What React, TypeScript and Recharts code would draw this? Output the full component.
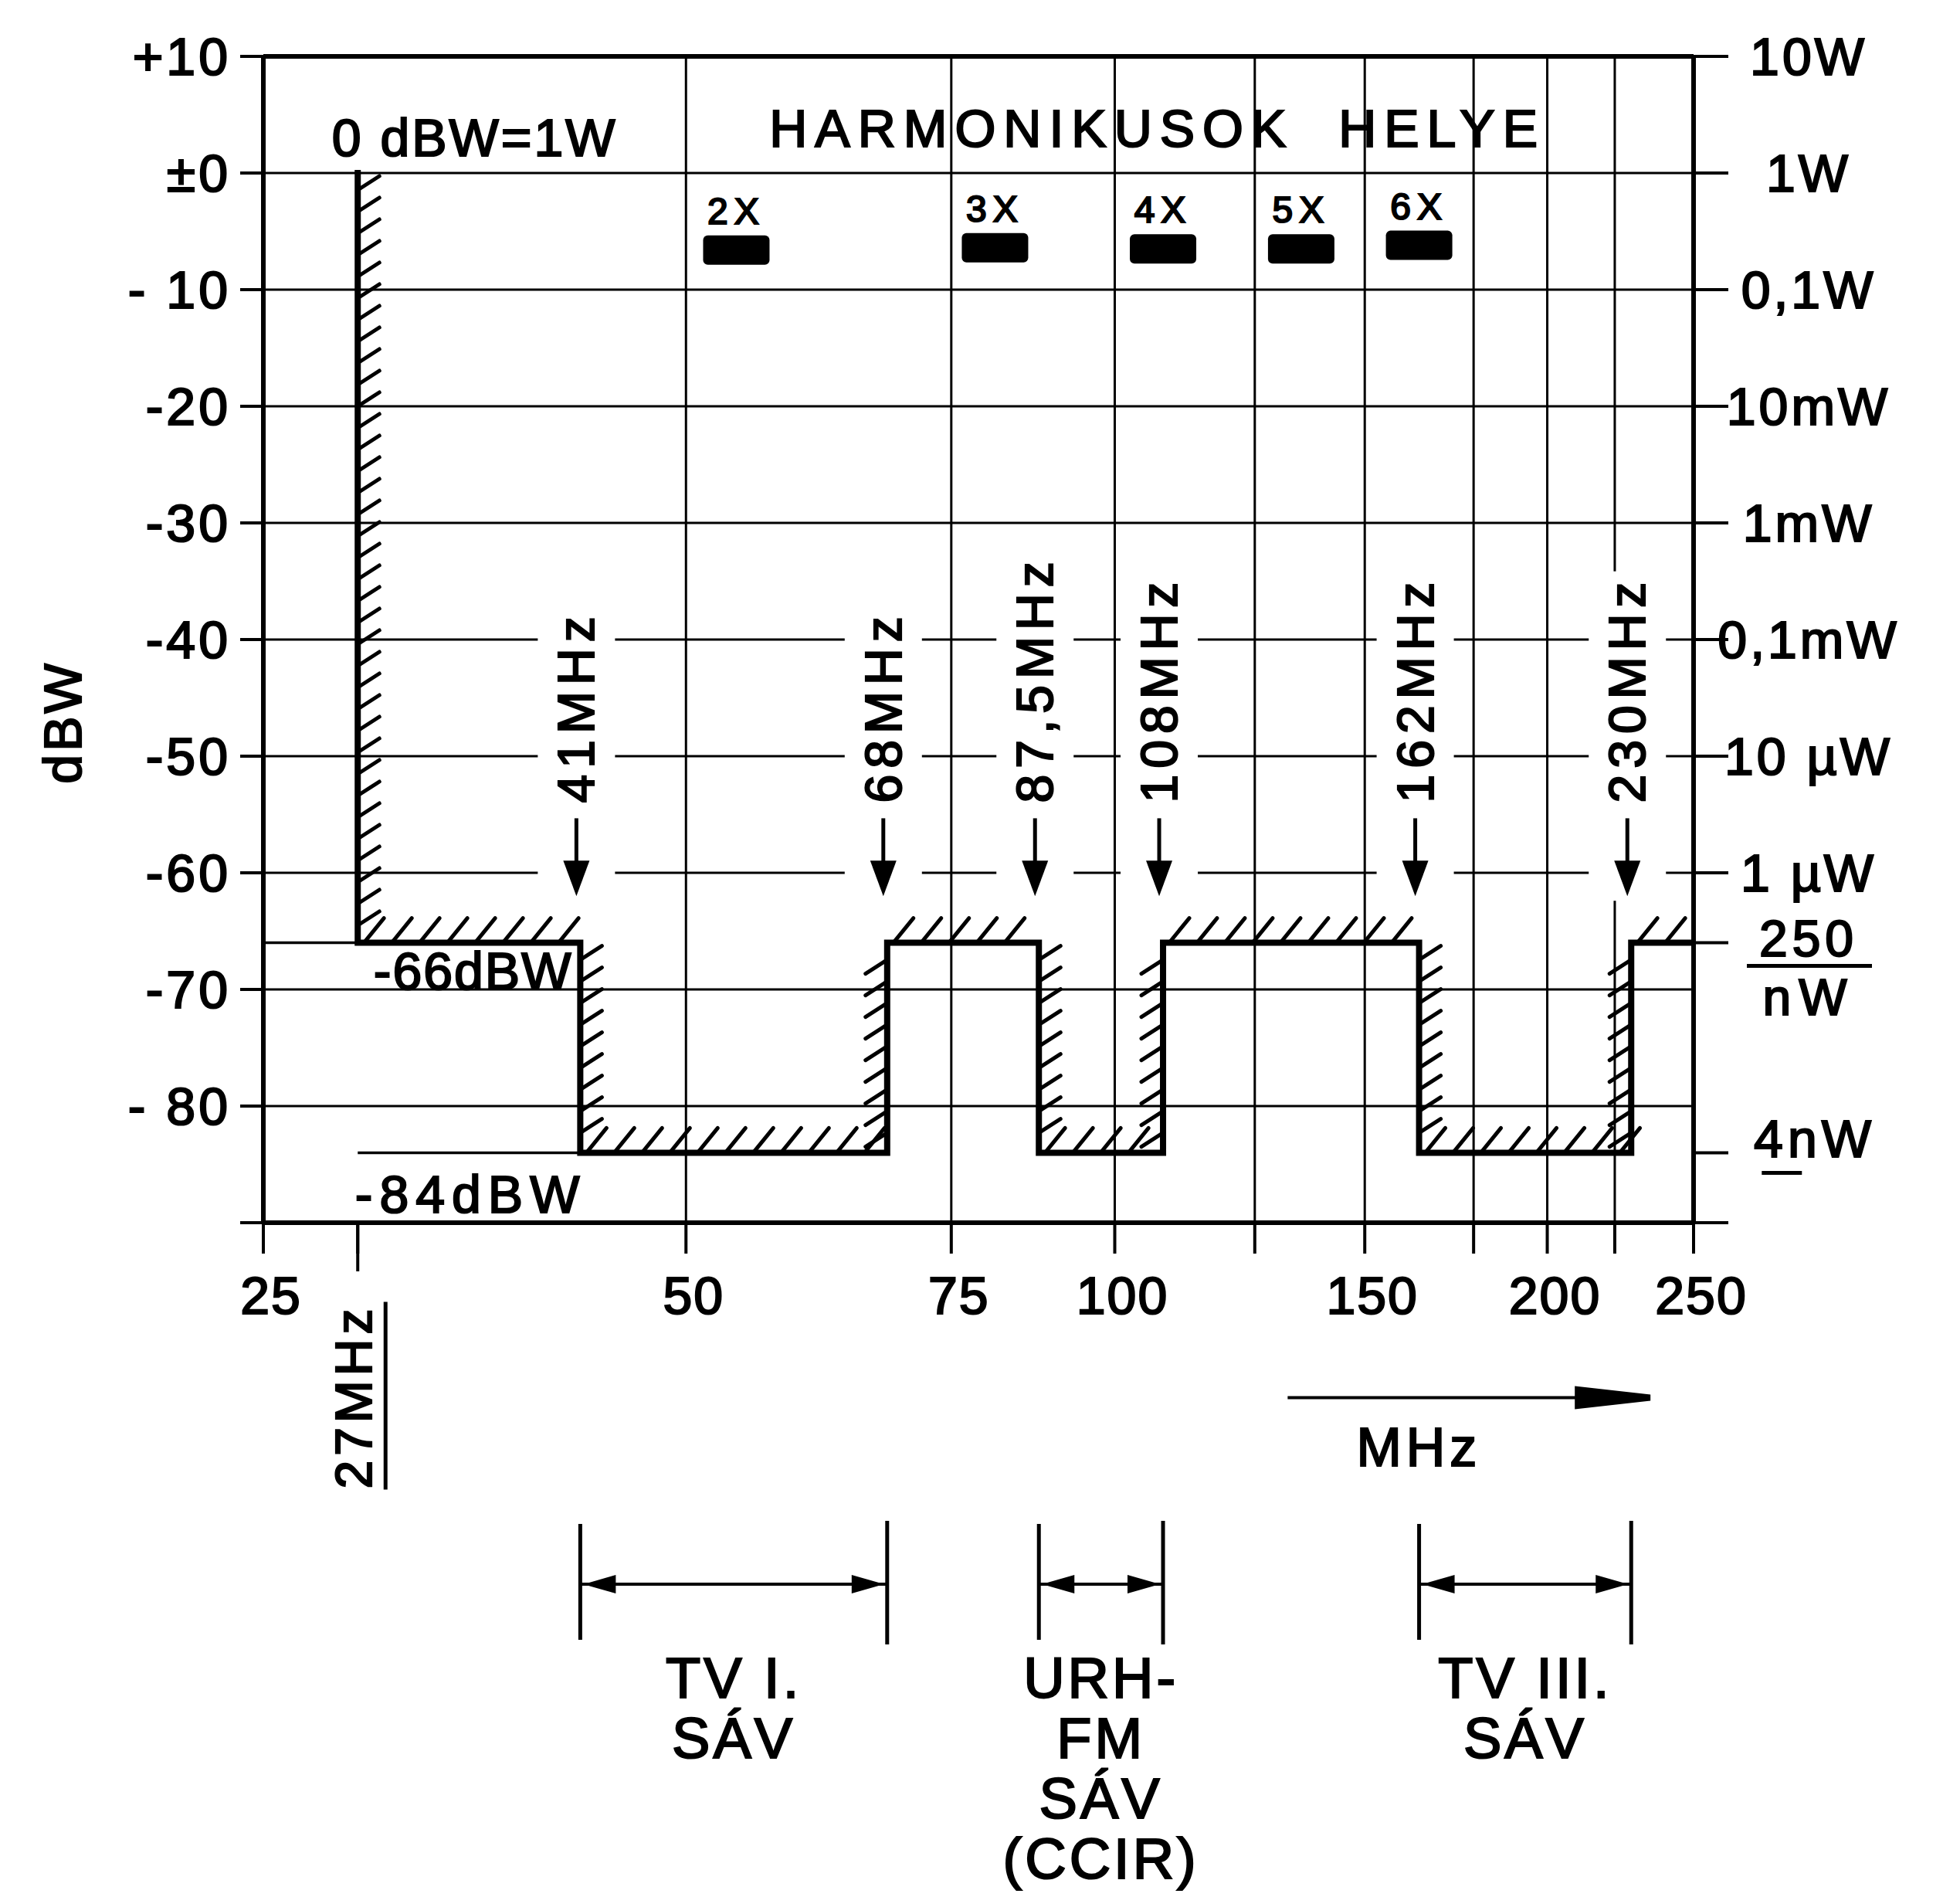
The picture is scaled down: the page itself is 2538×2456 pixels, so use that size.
import React from 'react';
import {
  ComposedChart,
  Line,
  Scatter,
  XAxis,
  YAxis,
  CartesianGrid,
  ReferenceLine,
} from 'recharts';

// ---------------- data ----------------
// spurious-emission mask: step boundaries (MHz) and the level (dBW) in each interval
const MASK_FREQS = [27, 41, 68, 87.5, 108, 162, 230, 250];
const MASK_LEVELS = [-66, -84, -66, -84, -66, -84, -66];
const CARRIER_LEVEL = 0; // 0 dBW = 1 W at 27 MHz

const STEP_FREQS = [41, 68, 87.5, 108, 162, 230];
const STEP_LABELS = ['41MHz', '68MHz', '87,5MHz', '108MHz', '162MHz', '230MHz'];

const HARMONIC_NAMES = ['2X', '3X', '4X', '5X', '6X'];
const HARMONIC_FREQS = [54, 81, 108, 135, 162];
const HARMONIC_LEVELS = [-6.6, -6.4, -6.5, -6.5, -6.2];

const BAND_FROM = [41, 87.5, 162];
const BAND_TO = [68, 108, 230];
const BAND_TEXT = [['TV I.', 'SÁV'], ['URH-', 'FM', 'SÁV', '(CCIR)'], ['TV III.', 'SÁV']];

const X_TICKS = [25, 27, 50, 75, 100, 125, 150, 175, 200, 225, 250];
const X_TICK_LABELS = ['25', '27MHz', '50', '75', '100', '', '150', '', '200', '', '250'];
// hand-drawn axis calibration: where each tick sits along the axis (0 = left, 1 = right)
const X_TICK_FRACTIONS = [0, 0.066, 0.2955, 0.481, 0.5953, 0.6932, 0.7701, 0.8462, 0.8977, 0.9449, 1];
const X_GRID = [50, 75, 100, 125, 150, 175, 200, 225];

const Y_TICKS = [10, 0, -10, -20, -30, -40, -50, -60, -70, -80, -90];
const Y_TICK_LABELS = ['+10', '±0', '- 10', '-20', '-30', '-40', '-50', '-60', '-70', '- 80', ''];

const POWER_TICKS = [10, 0, -10, -20, -30, -40, -50, -60, -66, -84, -90];
const POWER_LABELS = ['10W', '1W', '0,1W', '10mW', '1mW', '0,1mW', '10 µW', '1 µW', '250\nnW', '4nW', ''];

// ---------------- layout (annotation rows, in axis units) ----------------
const LAYOUT = {
  labelBase: -54,
  arrowTip: -62,
  unitRow: -105,
  unitFrom: 132,
  unitTo: 236,
  bandRow: -121,
};

const W = 2538;
const H = 2456;
const FONT = '"Liberation Sans", Arial, sans-serif';
const INK = '#000';
const TXT = { fill: INK, fontFamily: FONT, stroke: INK, strokeWidth: 2.2 } as const;

// ---------------- custom frequency scale (follows drawn tick positions, log between ticks) ----------------
function createDrawnFrequencyScale(): any {
  let dom: number[] = [X_TICKS[0], X_TICKS[X_TICKS.length - 1]];
  let rng: number[] = [0, 1];
  const toFraction = (v: number): number => {
    const n = X_TICKS.length;
    let i = 0;
    while (i < n - 2 && v > X_TICKS[i + 1]) i++;
    const a = X_TICKS[i];
    const b = X_TICKS[i + 1];
    const t = (Math.log(v) - Math.log(a)) / (Math.log(b) - Math.log(a));
    return X_TICK_FRACTIONS[i] + t * (X_TICK_FRACTIONS[i + 1] - X_TICK_FRACTIONS[i]);
  };
  const fromFraction = (fr: number): number => {
    const n = X_TICKS.length;
    let i = 0;
    while (i < n - 2 && fr > X_TICK_FRACTIONS[i + 1]) i++;
    const t = (fr - X_TICK_FRACTIONS[i]) / (X_TICK_FRACTIONS[i + 1] - X_TICK_FRACTIONS[i]);
    return Math.exp(Math.log(X_TICKS[i]) + t * (Math.log(X_TICKS[i + 1]) - Math.log(X_TICKS[i])));
  };
  const scale: any = (v: any) => {
    const n = Number(v);
    if (!Number.isFinite(n) || n <= 0) return undefined;
    return rng[0] + toFraction(n) * (rng[1] - rng[0]);
  };
  scale.domain = (d?: any) => {
    if (d === undefined) return dom.slice();
    dom = Array.from(d as number[]).map(Number);
    return scale;
  };
  scale.range = (r?: any) => {
    if (r === undefined) return rng.slice();
    rng = Array.from(r as number[]).map(Number);
    return scale;
  };
  scale.invert = (px: number) => fromFraction((px - rng[0]) / (rng[1] - rng[0]));
  scale.copy = () => createDrawnFrequencyScale().domain(dom).range(rng);
  scale.ticks = () => X_TICKS.slice();
  scale.tickFormat = () => (v: number) => String(v);
  scale.nice = () => scale;
  scale.clamp = () => scale;
  return scale;
}
const freqScale = createDrawnFrequencyScale();

// ---------------- derived tables ----------------
const maskPoints: { f: number; db: number }[] = [{ f: MASK_FREQS[0], db: CARRIER_LEVEL }];
MASK_LEVELS.forEach((lvl, i) => {
  maskPoints.push({ f: MASK_FREQS[i], db: lvl });
  maskPoints.push({ f: MASK_FREQS[i + 1], db: lvl });
});
const maskSegments = maskPoints.slice(1).map((b, i) => {
  const a = maskPoints[i];
  const side = a.f === b.f ? (b.db < a.db ? 'right' : 'left') : 'up';
  return { a, b, side };
});
const harmonicData = HARMONIC_FREQS.map((f, i) => ({ f, db: HARMONIC_LEVELS[i], name: HARMONIC_NAMES[i] }));

// ---------------- helpers ----------------
const CHAR_W: Record<string, number> = { M: 0.833, H: 0.722, z: 0.5, ',': 0.278, '.': 0.278 };
function textWidth(s: string, fs: number, ls: number) {
  let w = 0;
  for (const c of s) w += CHAR_W[c] ?? 0.556;
  return w * fs + ls * (s.length - 1);
}

const hatchShape = (side: string) => (p: any) => {
  const { x1, y1, x2, y2 } = p;
  const out: React.ReactNode[] = [];
  if (side === 'up') {
    const xa = Math.min(x1, x2);
    const xb = Math.max(x1, x2);
    for (let x = xa + 8; x <= xb - 10; x += 36) {
      out.push(<line key={x} x1={x} y1={y1} x2={x + 26} y2={y1 - 32} />);
    }
  } else {
    const ya = Math.min(y1, y2);
    const yb = Math.max(y1, y2);
    for (let y = ya + 22; y <= yb - 4; y += 28) {
      if (side === 'right') out.push(<line key={y} x1={x1} y1={y} x2={x1 + 28} y2={y - 18} />);
      else out.push(<line key={y} x1={x1 - 28} y1={y + 18} x2={x1} y2={y} />);
    }
  }
  return (
    <g stroke={INK} strokeWidth={5} strokeLinecap="round">
      {out}
    </g>
  );
};

const stepLabelShape = (text: string) => (p: any) => {
  const cx = p.x1 - 5;
  const yb = p.y1;
  const tip = p.y2;
  const len = textWidth(text, 66, 8);
  const top = yb - len - 14;
  return (
    <g>
      <rect x={cx - 50} y={top} width={100} height={tip + 6 - top} fill="#fff" />
      <text
        {...TXT}
        x={cx}
        y={yb}
        transform={`rotate(-90 ${cx} ${yb})`}
        dominantBaseline="central"
        fontSize={66}
        letterSpacing={8}
      >
        {text}
      </text>
      <line x1={cx} x2={cx} y1={yb + 20} y2={tip - 38} stroke={INK} strokeWidth={5} />
      <polygon points={`${cx - 17},${tip - 46} ${cx + 17},${tip - 46} ${cx},${tip}`} fill={INK} />
    </g>
  );
};

const dimensionShape = (text: string, dx: number, dy: number, ls: number) => (p: any) => (
  <g>
    <line x1={p.x1} y1={p.y1} x2={p.x2} y2={p.y2} stroke={INK} strokeWidth={3.5} />
    <text {...TXT} x={p.x2 + dx} y={p.y2 + dy} textAnchor="end" fontSize={68} letterSpacing={ls}>
      {text}
    </text>
  </g>
);

const cellTextShape = (text: string, dx: number, dy: number, ls: number) => (p: any) => (
  <text
    {...TXT}
    x={(p.x1 + p.x2) / 2 + dx}
    y={(p.y1 + p.y2) / 2 + dy}
    textAnchor="middle"
    fontSize={68}
    letterSpacing={ls}
  >
    {text}
  </text>
);

const bandShape = (lines: string[]) => (p: any) => {
  const { x1, x2, y1: y } = p;
  const cx = (x1 + x2) / 2;
  return (
    <g>
      <line x1={x1} x2={x1} y1={y - 78} y2={y + 72} stroke={INK} strokeWidth={5} />
      <line x1={x2} x2={x2} y1={y - 82} y2={y + 78} stroke={INK} strokeWidth={5} />
      <line x1={x1} x2={x2} y1={y} y2={y} stroke={INK} strokeWidth={4} />
      <polygon points={`${x1 + 4},${y} ${x1 + 46},${y - 12} ${x1 + 46},${y + 12}`} fill={INK} />
      <polygon points={`${x2 - 4},${y} ${x2 - 46},${y - 12} ${x2 - 46},${y + 12}`} fill={INK} />
      {lines.map((l, i) => (
        <text key={i} {...TXT} x={cx} y={y + 147 + i * 78} textAnchor="middle" fontSize={74} letterSpacing={4}>
          {l}
        </text>
      ))}
    </g>
  );
};

const unitArrowShape = (p: any) => {
  const { x1, x2, y1: y } = p;
  return (
    <g>
      <line x1={x1} x2={x2 - 60} y1={y} y2={y} stroke={INK} strokeWidth={4} />
      <polygon points={`${x2 - 98},${y - 15} ${x2},${y - 4} ${x2},${y + 4} ${x2 - 98},${y + 15}`} fill={INK} />
      <text {...TXT} x={x1 + 170} y={y + 88} textAnchor="middle" fontSize={70} letterSpacing={6}>
        MHz
      </text>
    </g>
  );
};

const HarmonicShape = (p: any) => (
  <g>
    <rect x={p.cx - 43} y={p.cy - 19} width={86} height={38} rx={6} fill={INK} />
    <text {...TXT} x={p.cx} y={p.cy - 34} textAnchor="middle" fontSize={48} letterSpacing={8}>
      {p.payload.name}
    </text>
  </g>
);

const XTick = (p: any) => {
  const v = p.payload.value;
  const lab = X_TICK_LABELS[X_TICKS.indexOf(v)];
  if (!lab) return <g />;
  if (lab.includes('MHz')) {
    const cx = p.x - 5;
    const cy = p.y + 183;
    const len = textWidth(lab, 66, 6);
    return (
      <g>
        <line x1={p.x} x2={p.x} y1={p.y - 42} y2={p.y + 21} stroke={INK} strokeWidth={4} />
        <text
          {...TXT}
          x={cx}
          y={cy}
          transform={`rotate(-90 ${cx} ${cy})`}
          textAnchor="middle"
          dominantBaseline="central"
          fontSize={66}
          letterSpacing={6}
        >
          {lab}
        </text>
        <line x1={p.x + 36} x2={p.x + 36} y1={cy - len / 2 - 6} y2={cy + len / 2 + 4} stroke={INK} strokeWidth={5} />
      </g>
    );
  }
  return (
    <text {...TXT} x={p.x + 10} y={p.y + 76} textAnchor="middle" fontSize={68} letterSpacing={2}>
      {lab}
    </text>
  );
};

const LeftTick = (p: any) => {
  const lab = Y_TICK_LABELS[Y_TICKS.indexOf(p.payload.value)];
  return (
    <text {...TXT} x={p.x - 10} y={p.y} dy="0.36em" textAnchor="end" fontSize={68} letterSpacing={4}>
      {lab}
    </text>
  );
};

const RightTick = (p: any) => {
  const v = p.payload.value;
  const lab = POWER_LABELS[POWER_TICKS.indexOf(v)];
  if (!lab) return <g />;
  const cx = p.x + 102;
  const y = p.y;
  if (lab.includes('\n')) {
    const [num, den] = lab.split('\n');
    return (
      <g>
        <text {...TXT} x={cx} y={y + 17} textAnchor="middle" fontSize={66} letterSpacing={6}>
          {num}
        </text>
        <line x1={cx - 80} x2={cx + 82} y1={y + 30} y2={y + 30} stroke={INK} strokeWidth={5} />
        <text {...TXT} x={cx} y={y + 93} textAnchor="middle" fontSize={66} letterSpacing={10}>
          {den}
        </text>
      </g>
    );
  }
  if (v === MASK_LEVELS[1]) {
    const w = textWidth(lab, 68, 6);
    const left = cx + 8 - w / 2;
    return (
      <g>
        <text {...TXT} x={cx + 8} y={y + 6} textAnchor="middle" fontSize={68} letterSpacing={6}>
          {lab}
        </text>
        <line x1={left - 6} x2={left + 46} y1={y + 26} y2={y + 26} stroke={INK} strokeWidth={5} />
      </g>
    );
  }
  return (
    <text {...TXT} x={cx} y={y} dy="0.36em" textAnchor="middle" fontSize={68} letterSpacing={4}>
      {lab}
    </text>
  );
};

export default function App() {
  return (
    <div style={{ position: 'absolute', left: 0, top: 0, width: W, height: H, background: '#fff' }}>
      <ComposedChart width={W} height={H} margin={{ top: 73, right: 0, bottom: 773, left: 0 }}>
        <XAxis
          dataKey="f"
          type="number"
          scale={freqScale}
          domain={[25, 250]}
          ticks={X_TICKS}
          interval={0}
          tick={<XTick />}
          tickSize={40}
          tickLine={{ stroke: INK, strokeWidth: 4 }}
          axisLine={{ stroke: INK, strokeWidth: 6 }}
          height={100}
          allowDataOverflow
        />
        <YAxis
          type="number"
          domain={[-90, 10]}
          ticks={Y_TICKS}
          interval={0}
          tick={<LeftTick />}
          tickSize={30}
          tickLine={{ stroke: INK, strokeWidth: 4 }}
          axisLine={{ stroke: INK, strokeWidth: 6 }}
          width={341}
          allowDataOverflow
        />
        <YAxis
          yAxisId="power"
          orientation="right"
          type="number"
          domain={[-90, 10]}
          ticks={POWER_TICKS}
          interval={0}
          tick={<RightTick />}
          tickSize={45}
          tickLine={{ stroke: INK, strokeWidth: 4 }}
          axisLine={{ stroke: INK, strokeWidth: 6 }}
          width={345}
          allowDataOverflow
        />

        <CartesianGrid vertical={false} stroke={INK} strokeWidth={3} />
        <ReferenceLine y={10} stroke={INK} strokeWidth={6} />

        <ReferenceLine
          segment={[{ x: 25, y: 10 }, { x: 50, y: 0 }]}
          shape={cellTextShape('0 dBW=1W', 0, 53, 3)}
        />
        <ReferenceLine
          segment={[{ x: 50, y: 10 }, { x: 250, y: 0 }]}
          shape={cellTextShape('HARMONIKUSOK\u00a0 HELYE', -42, 41, 10)}
        />

        {STEP_FREQS.map((f, i) => (
          <ReferenceLine
            key={'lab' + i}
            segment={[{ x: f, y: LAYOUT.labelBase }, { x: f, y: LAYOUT.arrowTip }]}
            shape={stepLabelShape(STEP_LABELS[i])}
          />
        ))}

        <CartesianGrid horizontal={false} verticalValues={X_GRID} stroke={INK} strokeWidth={3} />

        <ReferenceLine
          segment={[{ x: 25, y: MASK_LEVELS[0] }, { x: MASK_FREQS[1], y: MASK_LEVELS[0] }]}
          shape={dimensionShape(`${MASK_LEVELS[0]}dBW`, -10, 60, 2)}
        />
        <ReferenceLine
          segment={[{ x: MASK_FREQS[0], y: MASK_LEVELS[1] }, { x: MASK_FREQS[1], y: MASK_LEVELS[1] }]}
          shape={dimensionShape(`${MASK_LEVELS[1]}dBW`, 8, 78, 9)}
        />

        {maskSegments.map((s, i) => (
          <ReferenceLine
            key={'h' + i}
            segment={[{ x: s.a.f, y: s.a.db }, { x: s.b.f, y: s.b.db }]}
            shape={hatchShape(s.side)}
          />
        ))}

        <Line
          data={maskPoints}
          dataKey="db"
          type="linear"
          stroke={INK}
          strokeWidth={8}
          strokeLinejoin="miter"
          strokeLinecap="square"
          dot={false}
          activeDot={false}
          isAnimationActive={false}
        />

        <Scatter data={harmonicData} dataKey="db" shape={HarmonicShape} isAnimationActive={false} />

        {BAND_FROM.map((f, i) => (
          <ReferenceLine
            key={'band' + i}
            ifOverflow="visible"
            segment={[{ x: f, y: LAYOUT.bandRow }, { x: BAND_TO[i], y: LAYOUT.bandRow }]}
            shape={bandShape(BAND_TEXT[i])}
          />
        ))}
        <ReferenceLine
          ifOverflow="visible"
          segment={[{ x: LAYOUT.unitFrom, y: LAYOUT.unitRow }, { x: LAYOUT.unitTo, y: LAYOUT.unitRow }]}
          shape={unitArrowShape}
        />
      </ComposedChart>
      <svg style={{ position: 'absolute', left: 0, top: 0 }} width={200} height={H}>
        <text
          {...TXT}
          x={81}
          y={935}
          transform="rotate(-90 81 935)"
          textAnchor="middle"
          dominantBaseline="central"
          fontSize={68}
          letterSpacing={4}
        >
          dBW
        </text>
      </svg>
    </div>
  );
}
